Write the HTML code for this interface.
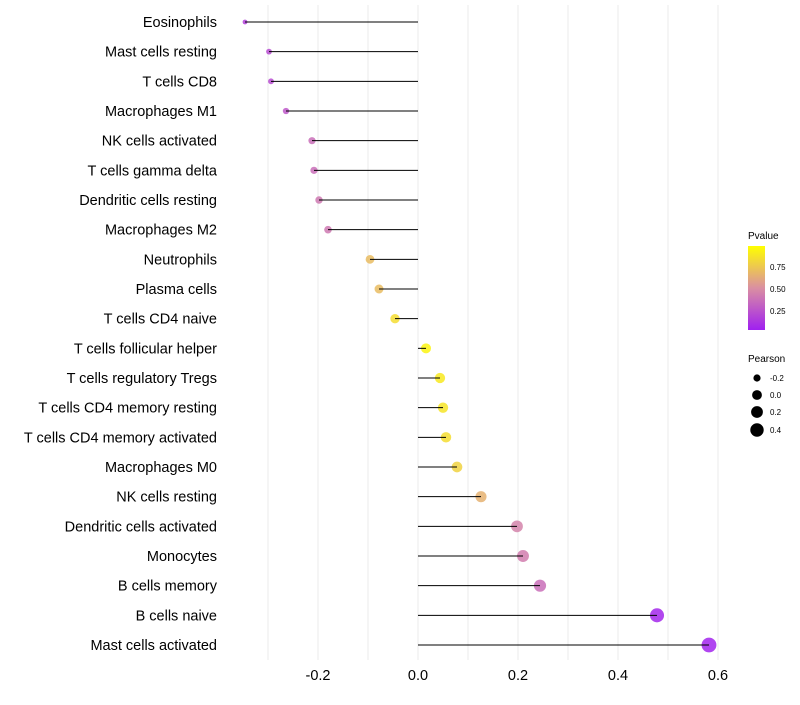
<!DOCTYPE html>
<html><head><meta charset="utf-8"><style>
body{margin:0;background:#fff;}
svg text{font-family:"Liberation Sans",Arial,sans-serif;}
</style></head><body>
<svg id="chart" width="800" height="700">
<defs>
<linearGradient id="pg" x1="0" y1="1" x2="0" y2="0">
<stop offset="0" stop-color="#A020F0"/><stop offset="0.5" stop-color="#DA8FA2"/><stop offset="1" stop-color="#FFFF00"/>
</linearGradient>
</defs>
<g id="grid"></g><g id="marks"></g><g id="labels"></g><g id="ticks"></g>
<g>
<text x="748" y="239" font-size="10" fill="#000">Pvalue</text>
<rect x="748" y="246" width="17" height="84" fill="url(#pg)"/>
<text x="770" y="270" font-size="8">0.75</text>
<text x="770" y="292" font-size="8">0.50</text>
<text x="770" y="314" font-size="8">0.25</text>
</g>
<g>
<text x="748" y="362" font-size="10">Pearson</text>
<circle cx="757" cy="378" r="3.6"/><text x="770" y="381" font-size="8">-0.2</text>
<circle cx="757" cy="395" r="4.9"/><text x="770" y="398" font-size="8">0.0</text>
<circle cx="757" cy="412" r="5.9"/><text x="770" y="415" font-size="8">0.2</text>
<circle cx="757" cy="430" r="6.7"/><text x="770" y="433" font-size="8">0.4</text>
</g>
</svg>
<script>
const categories=["Eosinophils","Mast cells resting","T cells CD8","Macrophages M1","NK cells activated","T cells gamma delta","Dendritic cells resting","Macrophages M2","Neutrophils","Plasma cells","T cells CD4 naive","T cells follicular helper","T cells regulatory  Tregs ","T cells CD4 memory resting","T cells CD4 memory activated","Macrophages M0","NK cells resting","Dendritic cells activated","Monocytes","B cells memory","B cells naive","Mast cells activated"];
const pearson=[-0.346,-0.298,-0.294,-0.264,-0.212,-0.208,-0.198,-0.18,-0.096,-0.078,-0.046,0.016,0.044,0.05,0.056,0.078,0.126,0.198,0.21,0.244,0.478,0.582];
const pvalue=[0.15,0.2,0.2,0.25,0.35,0.35,0.4,0.4,0.7,0.7,0.85,0.95,0.9,0.88,0.85,0.8,0.65,0.45,0.42,0.35,0.03,0.02];
const tickVals=[-0.2,0.0,0.2,0.4,0.6];
const tickLabels=["-0.2","0.0","0.2","0.4","0.6"];
const NS="http://www.w3.org/2000/svg";
const x=v=>418+v*500;
const y=i=>22+i*(623/21);
const rad=v=>Math.sqrt(Math.max(2.25,25+53*(v-0.016)));
function col(p){const s=[[160,32,240],[218,143,162],[255,255,0]];let a,b,t;if(p<0.5){a=s[0];b=s[1];t=p/0.5;}else{a=s[1];b=s[2];t=(p-0.5)/0.5;}return `rgb(${a.map((c,k)=>Math.round(c+(b[k]-c)*t)).join(',')})`;}
function mk(tag,attrs,parent){const e=document.createElementNS(NS,tag);for(const k in attrs)e.setAttribute(k,attrs[k]);document.getElementById(parent).appendChild(e);return e;}
for(let v=-0.3;v<=0.61;v+=0.1){const g=mk('line',{x1:x(v),x2:x(v),y1:5,y2:660,stroke:'#ebebeb','stroke-width':1},'grid');

}
categories.forEach((c,i)=>{
const pt=mk('circle',{cx:x(pearson[i]),cy:y(i),r:rad(pearson[i]),fill:col(pvalue[i]),'fill-opacity':0.85},'marks');


const ln=mk('line',{x1:x(0),x2:x(pearson[i]),y1:y(i),y2:y(i),stroke:'#000','stroke-width':1},'marks');


const t=mk('text',{x:217,y:y(i)+5,'text-anchor':'end','font-size':14.5,fill:'#000'},'labels');
t.textContent=c;


});
tickVals.forEach((v,i)=>{const t=mk('text',{x:x(v),y:680,'text-anchor':'middle','font-size':14.5,fill:'#000'},'ticks');
t.textContent=tickLabels[i];

});
</script>
</body></html>
